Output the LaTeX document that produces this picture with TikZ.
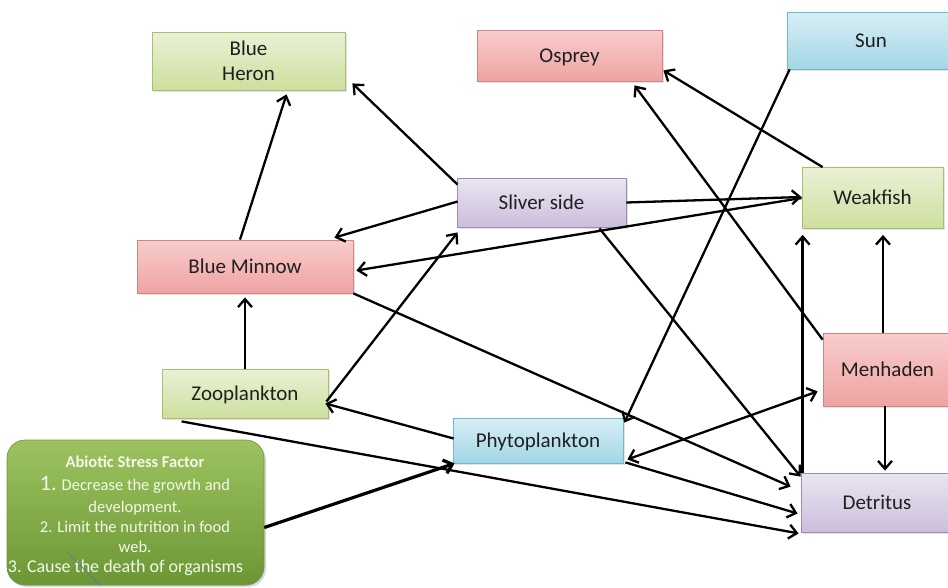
\documentclass[tikz,border=0pt]{standalone}
\usepackage{fontspec}
\setmainfont{Carlito}
\usetikzlibrary{calc,arrows.meta,shadows}

\definecolor{inktext}{HTML}{1F1F1F}
\definecolor{grtop}{HTML}{EAF1D6}
\definecolor{grbot}{HTML}{CDDF9E}
\definecolor{grline}{HTML}{A7C06B}
\definecolor{rdtop}{HTML}{F8CDCC}
\definecolor{rdbot}{HTML}{EEA3A2}
\definecolor{rdline}{HTML}{D08583}
\definecolor{cytop}{HTML}{D8EFF6}
\definecolor{cybot}{HTML}{A3D6E5}
\definecolor{cyline}{HTML}{6DBACF}
\definecolor{pptop}{HTML}{EAE5F1}
\definecolor{ppbot}{HTML}{CBBEDD}
\definecolor{ppline}{HTML}{9D8ABD}
\definecolor{abtop}{HTML}{9CC35F}
\definecolor{abbot}{HTML}{6C9635}
\definecolor{abtext}{HTML}{F3F8E8}

\tikzset{
  box/.style={draw, line width=0.8pt, inner sep=0pt, align=center,
    text=inktext, font=\fontsize{21}{25}\selectfont,
    drop shadow={shadow xshift=1.5pt, shadow yshift=-1.5pt, opacity=0.22}},
  oneline/.style={text height=16pt, text depth=2.5pt},
  greenbox/.style={box, draw=grline, top color=grtop, bottom color=grbot},
  redbox/.style={box, draw=rdline, top color=rdtop, bottom color=rdbot},
  cyanbox/.style={box, draw=cyline, top color=cytop, bottom color=cybot},
  purplebox/.style={box, draw=ppline, top color=pptop, bottom color=ppbot},
  link/.style={line width=2.3pt, -{Straight Barb[length=8pt,width=14pt]}},
  twoway/.style={line width=2.3pt, {Straight Barb[length=8pt,width=14pt]}-{Straight Barb[length=8pt,width=14pt]}}
}

\begin{document}
\begin{tikzpicture}[x=1pt,y=-1pt]
\useasboundingbox (0,0) rectangle (948,587);

% species and source boxes
\node[greenbox, minimum width=193pt, minimum height=58pt] (heron) at (248.5,61) {Blue\\Heron};
\node[redbox, oneline, minimum width=185pt, minimum height=51pt] (osprey) at (569.5,55.5) {Osprey};
\node[cyanbox, oneline, minimum width=168pt, minimum height=57pt] (sun) at (871,40.5) {Sun};
\node[purplebox, oneline, minimum width=169pt, minimum height=49pt] (sliver) at (541.5,202.5) {Sliver side};
\node[greenbox, oneline, minimum width=141pt, minimum height=61pt] (weakfish) at (872.5,198) {Weakfish};
\node[redbox, oneline, minimum width=216pt, minimum height=53pt] (minnow) at (245,266.5) {Blue Minnow};
\node[redbox, oneline, minimum width=129pt, minimum height=73pt] (menhaden) at (887.5,369.5) {Menhaden};
\node[greenbox, oneline, minimum width=166pt, minimum height=49pt] (zoo) at (245,393.5) {Zooplankton};
\node[cyanbox, oneline, minimum width=170pt, minimum height=45pt] (phyto) at (538,440.5) {Phytoplankton};
\node[purplebox, oneline, minimum width=152pt, minimum height=59pt] (detritus) at (877,502.5) {Detritus};

% stress factor panel
\node[draw=abbot, line width=0.6pt, rounded corners=18pt, top color=abtop, bottom color=abbot,
      minimum width=257pt, minimum height=145pt, inner sep=0pt,
      drop shadow={shadow xshift=2pt, shadow yshift=-2pt, opacity=0.3}]
  (abiotic) at (135.5,512.5) {};
\node[align=center, text=abtext, inner sep=0pt, font=\fontsize{16.5}{20}\selectfont]
  (abtext) at (135,516)
  {{\bfseries Abiotic Stress Factor}\\[3pt]
   {\fontsize{22}{20}\selectfont 1.} Decrease the growth and\\[2pt]
   development.\\
   2. Limit the nutrition in food\\
   web.\\
   {\fontsize{18}{20}\selectfont 3. Cause the death of organisms\hspace*{19pt}}};
\coordinate (marka) at ($(abiotic.south west)+(61,-33)$);
\coordinate (markb) at ($(abiotic.south west)+(93,0)$);
\draw[color=cyline!70!black, line width=0.8pt] (marka) -- (markb);

% feeding links
\draw[link] ($(minnow.north)+(-5,0)$) -- ($(heron.south)+(38,4)$);
\draw[link] ($(sliver.north west)+(1,7)$) -- ($(heron.south east)+(7,-7)$);
\draw[link] ($(sliver.west)+(1,-1)$) -- ($(minnow.north east)+(-19,-2)$);
\draw[link] (sliver.east) -- ($(weakfish.west)+(0,-1)$);
\draw[link] (weakfish.west) -- ($(minnow.east)+(3,4)$);
\draw[link] ($(weakfish.north west)+(21,0)$) -- ($(osprey.south east)+(1,-11)$);
\draw[link] ($(menhaden.north west)+(0,7)$) -- ($(osprey.south)+(65,4)$);
\draw[link] ($(sun.south west)+(3,0)$) -- ($(phyto.north east)+(1,5)$);
\draw[link] ($(sliver.south east)+(-27,1)$) -- ($(detritus.north west)+(0,4)$);
\draw[link] (minnow.south east) -- ($(detritus.north west)+(-10,14)$);
\draw[link] ($(zoo.east)+(-2,8)$) -- ($(sliver.south west)+(1,5)$);
\draw[link] ($(phyto.west)+(1,-2)$) -- ($(zoo.east)+(-3,10)$);
\draw[link] ($(zoo.south west)+(20,3)$) -- ($(detritus.south west)+(-2,1)$);
\draw[link, line width=3.2pt] ($(abiotic.east)+(0,15)$) -- ($(phyto.south west)+(2,0)$);
\draw[link] ($(phyto.south east)+(2,-1)$) -- ($(detritus.west)+(-3,11)$);
\draw[twoway] ($(phyto.south east)+(4,-4)$) -- ($(menhaden.south west)+(-5,-15)$);
\draw[link] ($(detritus.north west)+(2,0)$) -- ($(weakfish.south west)+(1,6)$);
\draw[link] ($(menhaden.north)+(-4.5,0)$) -- ($(weakfish.south)+(10.5,6)$);
\draw[link] ($(menhaden.south)+(-2.5,0)$) -- ($(detritus.north)+(8,-2)$);
\draw[link] (zoo.north) -- ($(minnow.south)+(0,4)$);
\end{tikzpicture}
\end{document}
